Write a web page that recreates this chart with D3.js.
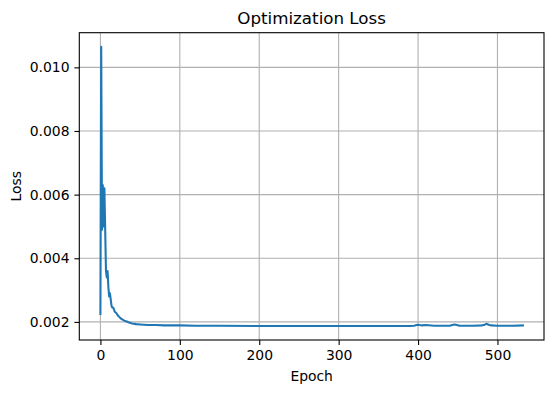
<!DOCTYPE html>
<html><head><meta charset="utf-8">
<script src="https://cdn.jsdelivr.net/npm/d3@7"></script>
<style>body{margin:0;background:#fff}svg{display:block}text{font-family:"DejaVu Sans",sans-serif;fill:#000}</style>
</head><body><svg id="c" width="553" height="393"></svg>
<script>
const epochs = [0,1,2,3,4,5,6,7,8,9,10,11,12,13,14,15,16,17,18,20,22,24,26,28,30,33,36,40,45,50,55,60,70,80,90,100,120,150,200,250,300,350,390,395,398,400,402,405,410,420,430,440,443,446,449,452,460,470,480,483,486,489,492,500,510,520,532];
const losses = [0.00225,0.01065,0.0049,0.0063,0.0050,0.0062,0.0049,0.0036,0.0034,0.0036,0.0031,0.0028,0.0029,0.0027,0.0025,0.00245,0.00245,0.0024,0.00232,0.00228,0.0022,0.00215,0.0021,0.00207,0.00204,0.00201,0.00198,0.00195,0.00193,0.00192,0.00191,0.0019,0.0019,0.00189,0.00189,0.00189,0.00188,0.00188,0.00187,0.00187,0.00187,0.00187,0.00187,0.00188,0.0019,0.00191,0.0019,0.00189,0.0019,0.00188,0.00188,0.00188,0.0019,0.00192,0.0019,0.00188,0.00188,0.00188,0.00189,0.0019,0.00194,0.00191,0.00189,0.00188,0.00188,0.00188,0.00189];
const xTicks = [0,100,200,300,400,500];
const yTicks = [0.002,0.004,0.006,0.008,0.010];
const title = "Optimization Loss", xLabel = "Epoch", yLabel = "Loss";

const L=79.3, R=544, T=32.7, B=340;
const svg = d3.select("#c");
const xmin=d3.min(epochs), xmax=d3.max(epochs), ymin=d3.min(losses), ymax=d3.max(losses);
const xm=(xmax-xmin)*0.05, ym=(ymax-ymin)*0.05;
const x = d3.scaleLinear().domain([xmin-xm, xmax+xm]).range([L,R]);
const y = d3.scaleLinear().domain([ymin-ym, ymax+ym]).range([B,T]);

// grid
const g = svg.append("g");
g.selectAll(".gx").data(xTicks).join("line").attr("x1",d=>x(d)).attr("x2",d=>x(d)).attr("y1",T).attr("y2",B).attr("stroke","#b0b0b0").attr("stroke-width",1.1);
g.selectAll(".gy").data(yTicks).join("line").attr("y1",d=>y(d)).attr("y2",d=>y(d)).attr("x1",L).attr("x2",R).attr("stroke","#b0b0b0").attr("stroke-width",1.1);

// line
svg.append("path").datum(epochs.map((e,i)=>[e,losses[i]]))
  .attr("d", d3.line().x(d=>x(d[0])).y(d=>y(d[1])))
  .attr("fill","none").attr("stroke","#1f77b4").attr("stroke-width",2.08).attr("stroke-linejoin","round").attr("stroke-linecap","square");

// axes
const xa = svg.append("g").attr("transform",`translate(0,${B})`).call(d3.axisBottom(x).tickValues(xTicks).tickFormat(d3.format("d")).tickSize(4.9).tickPadding(4.9));
const ya = svg.append("g").attr("transform",`translate(${L},0)`).call(d3.axisLeft(y).tickValues(yTicks).tickFormat(d3.format(".3f")).tickSize(4.9).tickPadding(4.9));
[xa,ya].forEach(a=>{a.select(".domain").remove();a.selectAll("text").attr("font-size","13.9px").attr("font-family","DejaVu Sans").attr("fill","#000");a.selectAll("line").attr("stroke","#000").attr("stroke-width",1.1);});

svg.append("rect").attr("x",L).attr("y",T).attr("width",R-L).attr("height",B-T).attr("fill","none").attr("stroke","#000").attr("stroke-width",1.1);

svg.append("text").attr("x",(L+R)/2).attr("y",24).attr("text-anchor","middle").attr("font-size","16.7px").text(title);
svg.append("text").attr("x",(L+R)/2).attr("y",381).attr("text-anchor","middle").attr("font-size","13.9px").text(xLabel);
svg.append("text").attr("transform",`translate(21,${(T+B)/2}) rotate(-90)`).attr("text-anchor","middle").attr("font-size","13.9px").text(yLabel);
</script></body></html>
